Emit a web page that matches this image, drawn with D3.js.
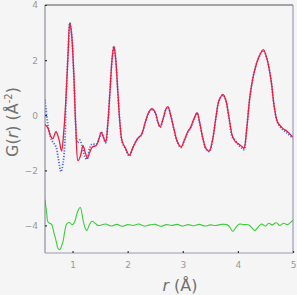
<!DOCTYPE html>
<html>
<head>
<meta charset="utf-8">
<script src="https://cdn.jsdelivr.net/npm/d3@7"></script>
<style>
  body { margin: 0; background: #f5f5f5; }
  svg { display: block; }
</style>
</head>
<body>
<div id="chart-area"></div>
<script>
// calculated G(r) (red)
var rCalc = [0.50,0.55,0.60,0.64,0.70,0.75,0.80,0.84,0.88,0.92,0.95,0.98,1.02,1.06,1.10,1.14,1.19,1.23,1.27,1.31,1.36,1.43,1.48,1.52,1.56,1.60,1.64,1.68,1.72,1.75,1.78,1.82,1.86,1.90,1.96,2.03,2.10,2.18,2.25,2.32,2.38,2.44,2.50,2.55,2.59,2.64,2.70,2.73,2.78,2.84,2.90,2.97,3.03,3.09,3.14,3.20,3.26,3.30,3.36,3.42,3.48,3.54,3.60,3.66,3.73,3.78,3.84,3.90,3.95,4.02,4.08,4.11,4.16,4.22,4.30,4.38,4.46,4.52,4.60,4.66,4.72,4.80,4.90,5.00];
var calc  = [-0.34,-0.45,-0.75,-0.85,-0.60,-0.85,-1.30,-0.60,0.60,2.30,3.35,3.00,1.60,-0.50,-1.65,-1.50,-1.10,-1.35,-1.55,-1.35,-1.15,-1.10,-0.85,-0.62,-0.80,-0.98,-0.30,0.90,2.10,2.50,2.10,0.90,-0.30,-0.95,-1.20,-1.45,-1.15,-0.85,-0.70,-0.25,0.10,0.24,0.10,-0.25,-0.42,-0.15,0.25,0.31,0.00,-0.50,-0.95,-1.15,-0.90,-0.60,-0.45,-0.15,0.09,-0.20,-0.80,-1.20,-1.30,-0.90,-0.10,0.55,0.75,0.55,-0.10,-0.75,-0.95,-1.05,-1.15,-1.20,-0.50,0.70,1.60,2.10,2.38,2.10,1.30,0.30,-0.25,-0.45,-0.60,-0.80];

// observed G(r) (blue dots)
var rObs = [0.50,0.53,0.57,0.62,0.70,0.74,0.79,0.83,0.86,0.88,0.92,0.95,0.98,1.02,1.06,1.09,1.13,1.17,1.22,1.26,1.31,1.35,1.43,1.48,1.52,1.56,1.60,1.64,1.68,1.72,1.75,1.78,1.82,1.86,1.90,1.96,2.03,2.10,2.18,2.25,2.32,2.38,2.44,2.50,2.55,2.59,2.64,2.70,2.73,2.78,2.84,2.90,2.97,3.03,3.09,3.14,3.20,3.26,3.30,3.36,3.42,3.48,3.54,3.60,3.66,3.73,3.78,3.84,3.90,3.95,4.02,4.08,4.11,4.16,4.22,4.30,4.38,4.46,4.52,4.60,4.66,4.72,4.80,4.90,5.00];
var obs  = [0.56,0.00,-0.55,-0.90,-1.15,-1.55,-2.05,-1.70,-1.00,0.50,2.30,3.35,3.00,1.60,-0.40,-1.00,-0.90,-1.10,-1.50,-1.60,-1.20,-1.05,-1.05,-0.85,-0.60,-0.80,-1.00,-0.30,0.90,2.10,2.50,2.10,0.90,-0.30,-0.97,-1.22,-1.48,-1.15,-0.85,-0.72,-0.27,0.08,0.22,0.08,-0.27,-0.44,-0.15,0.23,0.29,0.00,-0.52,-0.97,-1.17,-0.90,-0.62,-0.47,-0.15,0.07,-0.22,-0.80,-1.22,-1.32,-0.90,-0.12,0.53,0.73,0.55,-0.12,-0.80,-0.90,-1.10,-1.20,-1.25,-0.50,0.70,1.60,2.10,2.35,2.10,1.30,0.30,-0.27,-0.50,-0.66,-0.84];

// difference curve, shifted to -4 (green)
var rDiff = [0.50,0.53,0.55,0.58,0.62,0.66,0.70,0.74,0.77,0.80,0.83,0.86,0.89,0.92,0.95,0.98,1.01,1.05,1.09,1.14,1.19,1.23,1.26,1.30,1.35,1.41,1.46,1.5,1.6,1.7,1.8,1.9,2.0,2.1,2.2,2.3,2.4,2.5,2.6,2.7,2.8,2.9,3.0,3.1,3.2,3.3,3.4,3.5,3.6,3.7,3.8,3.85,3.91,3.97,4.03,4.1,4.2,4.26,4.31,4.37,4.43,4.5,4.56,4.62,4.7,4.76,4.83,4.9,4.96,5.0];
var diff  = [-3.06,-3.55,-3.86,-3.92,-3.96,-4.25,-4.55,-4.85,-4.87,-4.75,-4.55,-4.2,-3.96,-3.9,-3.9,-3.96,-3.96,-3.8,-3.5,-3.35,-3.8,-4.1,-4.18,-4.0,-3.85,-3.92,-4.0,-4.0,-3.95,-4.02,-3.96,-4.03,-3.97,-4.0,-3.95,-4.02,-3.98,-3.96,-4.03,-3.97,-4.0,-3.96,-4.02,-3.97,-4.01,-3.96,-4.02,-3.98,-4.0,-3.96,-3.97,-4.05,-4.22,-4.05,-3.95,-3.97,-3.98,-4.1,-4.18,-4.05,-3.95,-4.02,-3.92,-3.98,-3.9,-4.0,-3.92,-3.97,-3.88,-3.82];

var xTicks = [1, 2, 3, 4, 5];
var yTicks = [4, 2, 0, -2, -4];

var margin = { left: 45, right: 4, top: 5, bottom: 42 };
var width = 297 - margin.left - margin.right,
    height = 295 - margin.top - margin.bottom;

var svg = d3.select("#chart-area")
    .append("svg")
        .attr("width", 297)
        .attr("height", 295);

var g = svg.append("g")
    .attr("transform", "translate(" + margin.left + "," + margin.top + ")");

var x = d3.scaleLinear().domain([0.5, 5]).range([0, width]);
var y = d3.scaleLinear().domain([-5, 4]).range([height, 0]);

g.append("clipPath")
    .attr("id", "clip")
  .append("rect")
    .attr("width", width)
    .attr("height", height);

var line = d3.line()
    .x(function(d){ return x(d[0]); })
    .y(function(d){ return y(d[1]); })
    .curve(d3.curveCatmullRom.alpha(0.5));

var plot = g.append("g").attr("clip-path", "url(#clip)");

// observed (dotted blue)
plot.append("path")
    .datum(d3.zip(rObs, obs))
    .attr("fill", "none")
    .attr("stroke", "#4a68e0")
    .attr("stroke-width", 1.8)
    .attr("stroke-dasharray", "1.2,1.6")
    .attr("d", line);

// calculated (red)
plot.append("path")
    .datum(d3.zip(rCalc, calc))
    .attr("fill", "none")
    .attr("stroke", "#ee1c3e")
    .attr("stroke-width", 1.3)
    .attr("d", line);

// difference (green)
plot.append("path")
    .datum(d3.zip(rDiff, diff))
    .attr("fill", "none")
    .attr("stroke", "#3ccc3c")
    .attr("stroke-width", 1.1)
    .attr("d", line);

// frame
g.append("line").attr("x1", 0).attr("x2", width).attr("y1", 0).attr("y2", 0)
    .attr("stroke", "#555").attr("stroke-width", 1.2);
g.append("line").attr("x1", 0).attr("x2", 0).attr("y1", 0).attr("y2", height)
    .attr("stroke", "#7a7a8a").attr("stroke-width", 1);
g.append("line").attr("x1", width).attr("x2", width).attr("y1", 0).attr("y2", height)
    .attr("stroke", "#8a8ab0").attr("stroke-width", 1);
g.append("line").attr("x1", 0).attr("x2", width).attr("y1", height).attr("y2", height)
    .attr("stroke", "#9a9ab0").attr("stroke-width", 1);

// X Axis
var xAxisCall = d3.axisBottom(x)
    .tickValues(xTicks)
    .tickFormat(d3.format("d"))
    .tickSizeInner(-2)
    .tickSizeOuter(0)
    .tickPadding(9);
var xAxisGroup = g.append("g")
    .attr("transform", "translate(0," + height + ")")
    .call(xAxisCall);

// Y Axis
var yAxisCall = d3.axisLeft(y)
    .tickValues(yTicks)
    .tickFormat(d3.format("d"))
    .tickSizeInner(-2)
    .tickSizeOuter(0)
    .tickPadding(7);
var yAxisGroup = g.append("g")
    .call(yAxisCall);

[xAxisGroup, yAxisGroup].forEach(function(ax){
    ax.select(".domain").remove();
    ax.selectAll(".tick line").attr("stroke", "#333").attr("stroke-width", 1.2);
    ax.selectAll(".tick text")
        .attr("fill", "#999")
        .attr("font-family", "DejaVu Sans, sans-serif")
        .attr("font-size", "9px");
});

// X Label
svg.append("text")
    .attr("x", 180)
    .attr("y", 291)
    .attr("text-anchor", "middle")
    .attr("font-family", "DejaVu Sans, sans-serif")
    .attr("font-size", "16px")
    .attr("fill", "#707070")
    .html("<tspan font-style='italic'>r</tspan> (Å)");

// Y Label
svg.append("text")
    .attr("transform", "translate(18,122) rotate(-90)")
    .attr("text-anchor", "middle")
    .attr("font-family", "DejaVu Sans, sans-serif")
    .attr("font-size", "16px")
    .attr("fill", "#707070")
    .html("G(<tspan font-style='italic'>r</tspan>) (Å<tspan dy='-6' font-size='10px'>-2</tspan><tspan dy='6'>)</tspan>");
</script>
</body>
</html>
